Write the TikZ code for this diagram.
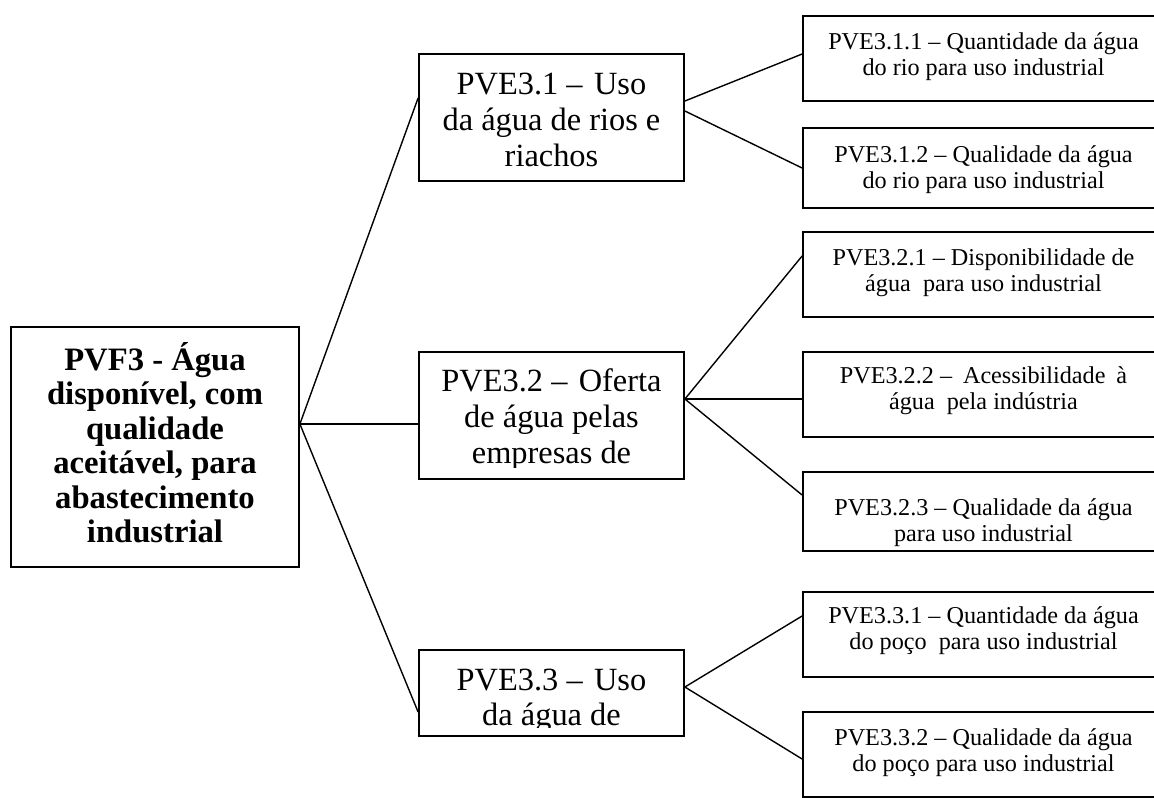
\documentclass[tikz,border=0pt]{standalone}
\usepackage{fontspec}
\setmainfont{Liberation Serif}
\newlength\pxu
\setlength\pxu{0.75pt}
\begin{document}
\begin{tikzpicture}[x=0.75pt,y=-0.75pt,
  box/.style={draw, rectangle, line width=1.8\pxu, inner sep=0pt},
  link/.style={line width=1.4\pxu},
  roottext/.style={align=center, anchor=base, inner sep=0pt, font=\rmfamily\fontsize{24.5}{25.9}\selectfont\bfseries},
  midtext/.style={align=center, anchor=base, inner sep=0pt, font=\rmfamily\fontsize{24.3}{26.9}\selectfont},
  leaftext/.style={align=center, anchor=base, inner sep=0pt, font=\rmfamily\fontsize{18.15}{20}\selectfont}]
\useasboundingbox (0,0) rectangle (1154,797);
\clip (0,0) rectangle (1154,797);
\fill[white] (0,0) rectangle (1154,797);

% boxes
\node[box, minimum width=288\pxu, minimum height=240\pxu] (root) at (155,447) {};
\node[box, minimum width=265\pxu, minimum height=127\pxu] (m1) at (551.5,117.5) {};
\node[box, minimum width=265\pxu, minimum height=127\pxu] (m2) at (551.5,415.5) {};
\node[box, minimum width=265\pxu, minimum height=86\pxu] (m3) at (551.5,693) {};
\node[box, minimum width=361\pxu, minimum height=85\pxu] (r1) at (983.5,58.5) {};
\node[box, minimum width=361\pxu, minimum height=80\pxu] (r2) at (983.5,168) {};
\node[box, minimum width=361\pxu, minimum height=85\pxu] (r3) at (983.5,274.5) {};
\node[box, minimum width=361\pxu, minimum height=85\pxu] (r4) at (983.5,394.5) {};
\node[box, minimum width=361\pxu, minimum height=79\pxu] (r5) at (983.5,511.5) {};
\node[box, minimum width=361\pxu, minimum height=85\pxu] (r6) at (983.5,634.5) {};
\node[box, minimum width=361\pxu, minimum height=85\pxu] (r7) at (983.5,754.5) {};

% texts (base anchor = baseline of the last line)
\node[roottext] (t0) at (155,542.7) {PVF3 - Água\\disponível, com\\qualidade\\aceitável, para\\abastecimento\\industrial};
\node[midtext] (t1) at (551.5,166.7) {PVE3.1 –\hspace{0.35em}Uso\\da água de rios e\\riachos};
\begin{scope}
  \clip (419,352) rectangle (684,467);
  \node[midtext] (t2) at (551.5,463.7) {PVE3.2 –\hspace{0.35em}Oferta\\de água pelas\\empresas de};
\end{scope}
\begin{scope}
  \clip (419,650) rectangle (684,727);
  \node[midtext] (t3) at (551.5,725.9) {PVE3.3 –\hspace{0.35em}Uso\\da água de};
\end{scope}
\node[leaftext] (t11) at (983.5,75.7) {PVE3.1.1 – Quantidade da água\\do rio para uso industrial};
\node[leaftext] (t12) at (983.5,188.7) {PVE3.1.2 – Qualidade da água\\do rio para uso industrial};
\node[leaftext] (t21) at (983.5,291.7) {PVE3.2.1 – Disponibilidade de\\água\ \ para uso industrial};
\node[leaftext] (t22) at (983.5,409.7) {PVE3.2.2 –\hspace{0.45em}Acessibilidade\hspace{0.45em}à\\água\ \ pela indústria};
\node[leaftext] (t23) at (983.5,541.7) {PVE3.2.3 – Qualidade da água\\para uso industrial};
\node[leaftext] (t31) at (983.5,649.7) {PVE3.3.1 – Quantidade da água\\do poço\ \ para uso industrial};
\node[leaftext] (t32) at (983.5,771.7) {PVE3.3.2 – Qualidade da água\\do poço para uso industrial};

% connectors
\draw[link] (root.east |- 0,424) -- (m1.west |- 0,98);
\draw[link] (root.east |- 0,424) -- (m2.west |- 0,424);
\draw[link] (root.east |- 0,424) -- (m3.west |- 0,712);
\draw[link] (m1.east |- 0,101) -- (r1.west |- 0,54);
\draw[link] (m1.east |- 0,111) -- (r2.west |- 0,168);
\draw[link] (m2.east |- 0,399) -- (r3.west |- 0,256);
\draw[link] (m2.east |- 0,399) -- (r4.west |- 0,399);
\draw[link] (m2.east |- 0,399) -- (r5.west |- 0,495);
\draw[link] (m3.east |- 0,687) -- (r6.west |- 0,616);
\draw[link] (m3.east |- 0,687) -- (r7.west |- 0,759);
\end{tikzpicture}
\end{document}
